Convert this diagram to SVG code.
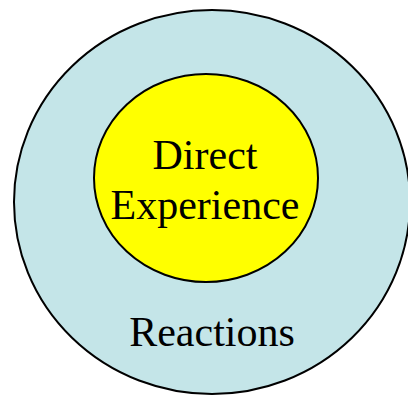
<svg xmlns="http://www.w3.org/2000/svg" width="408" height="396" viewBox="0 0 408 396">
<style>
.lbl{font-family:"Liberation Serif","Times New Roman",serif;font-size:42px;fill:#000;text-anchor:middle}
.ring{stroke:#000;stroke-width:2}
</style>
<rect width="408" height="396" fill="#fff"/>
<g id="reactions">
<ellipse class="ring" cx="212" cy="202" rx="198" ry="192" fill="#C4E5E8"/>
<text class="lbl" x="212" y="346">Reactions</text>
</g>
<g id="direct-experience">
<ellipse class="ring" cx="206" cy="178" rx="112" ry="104" fill="#FFFF00"/>
<text class="lbl" x="205" y="169">Direct</text>
<text class="lbl" x="205" y="219">Experience</text>
</g>
<g id="connectors"></g>
</svg>
